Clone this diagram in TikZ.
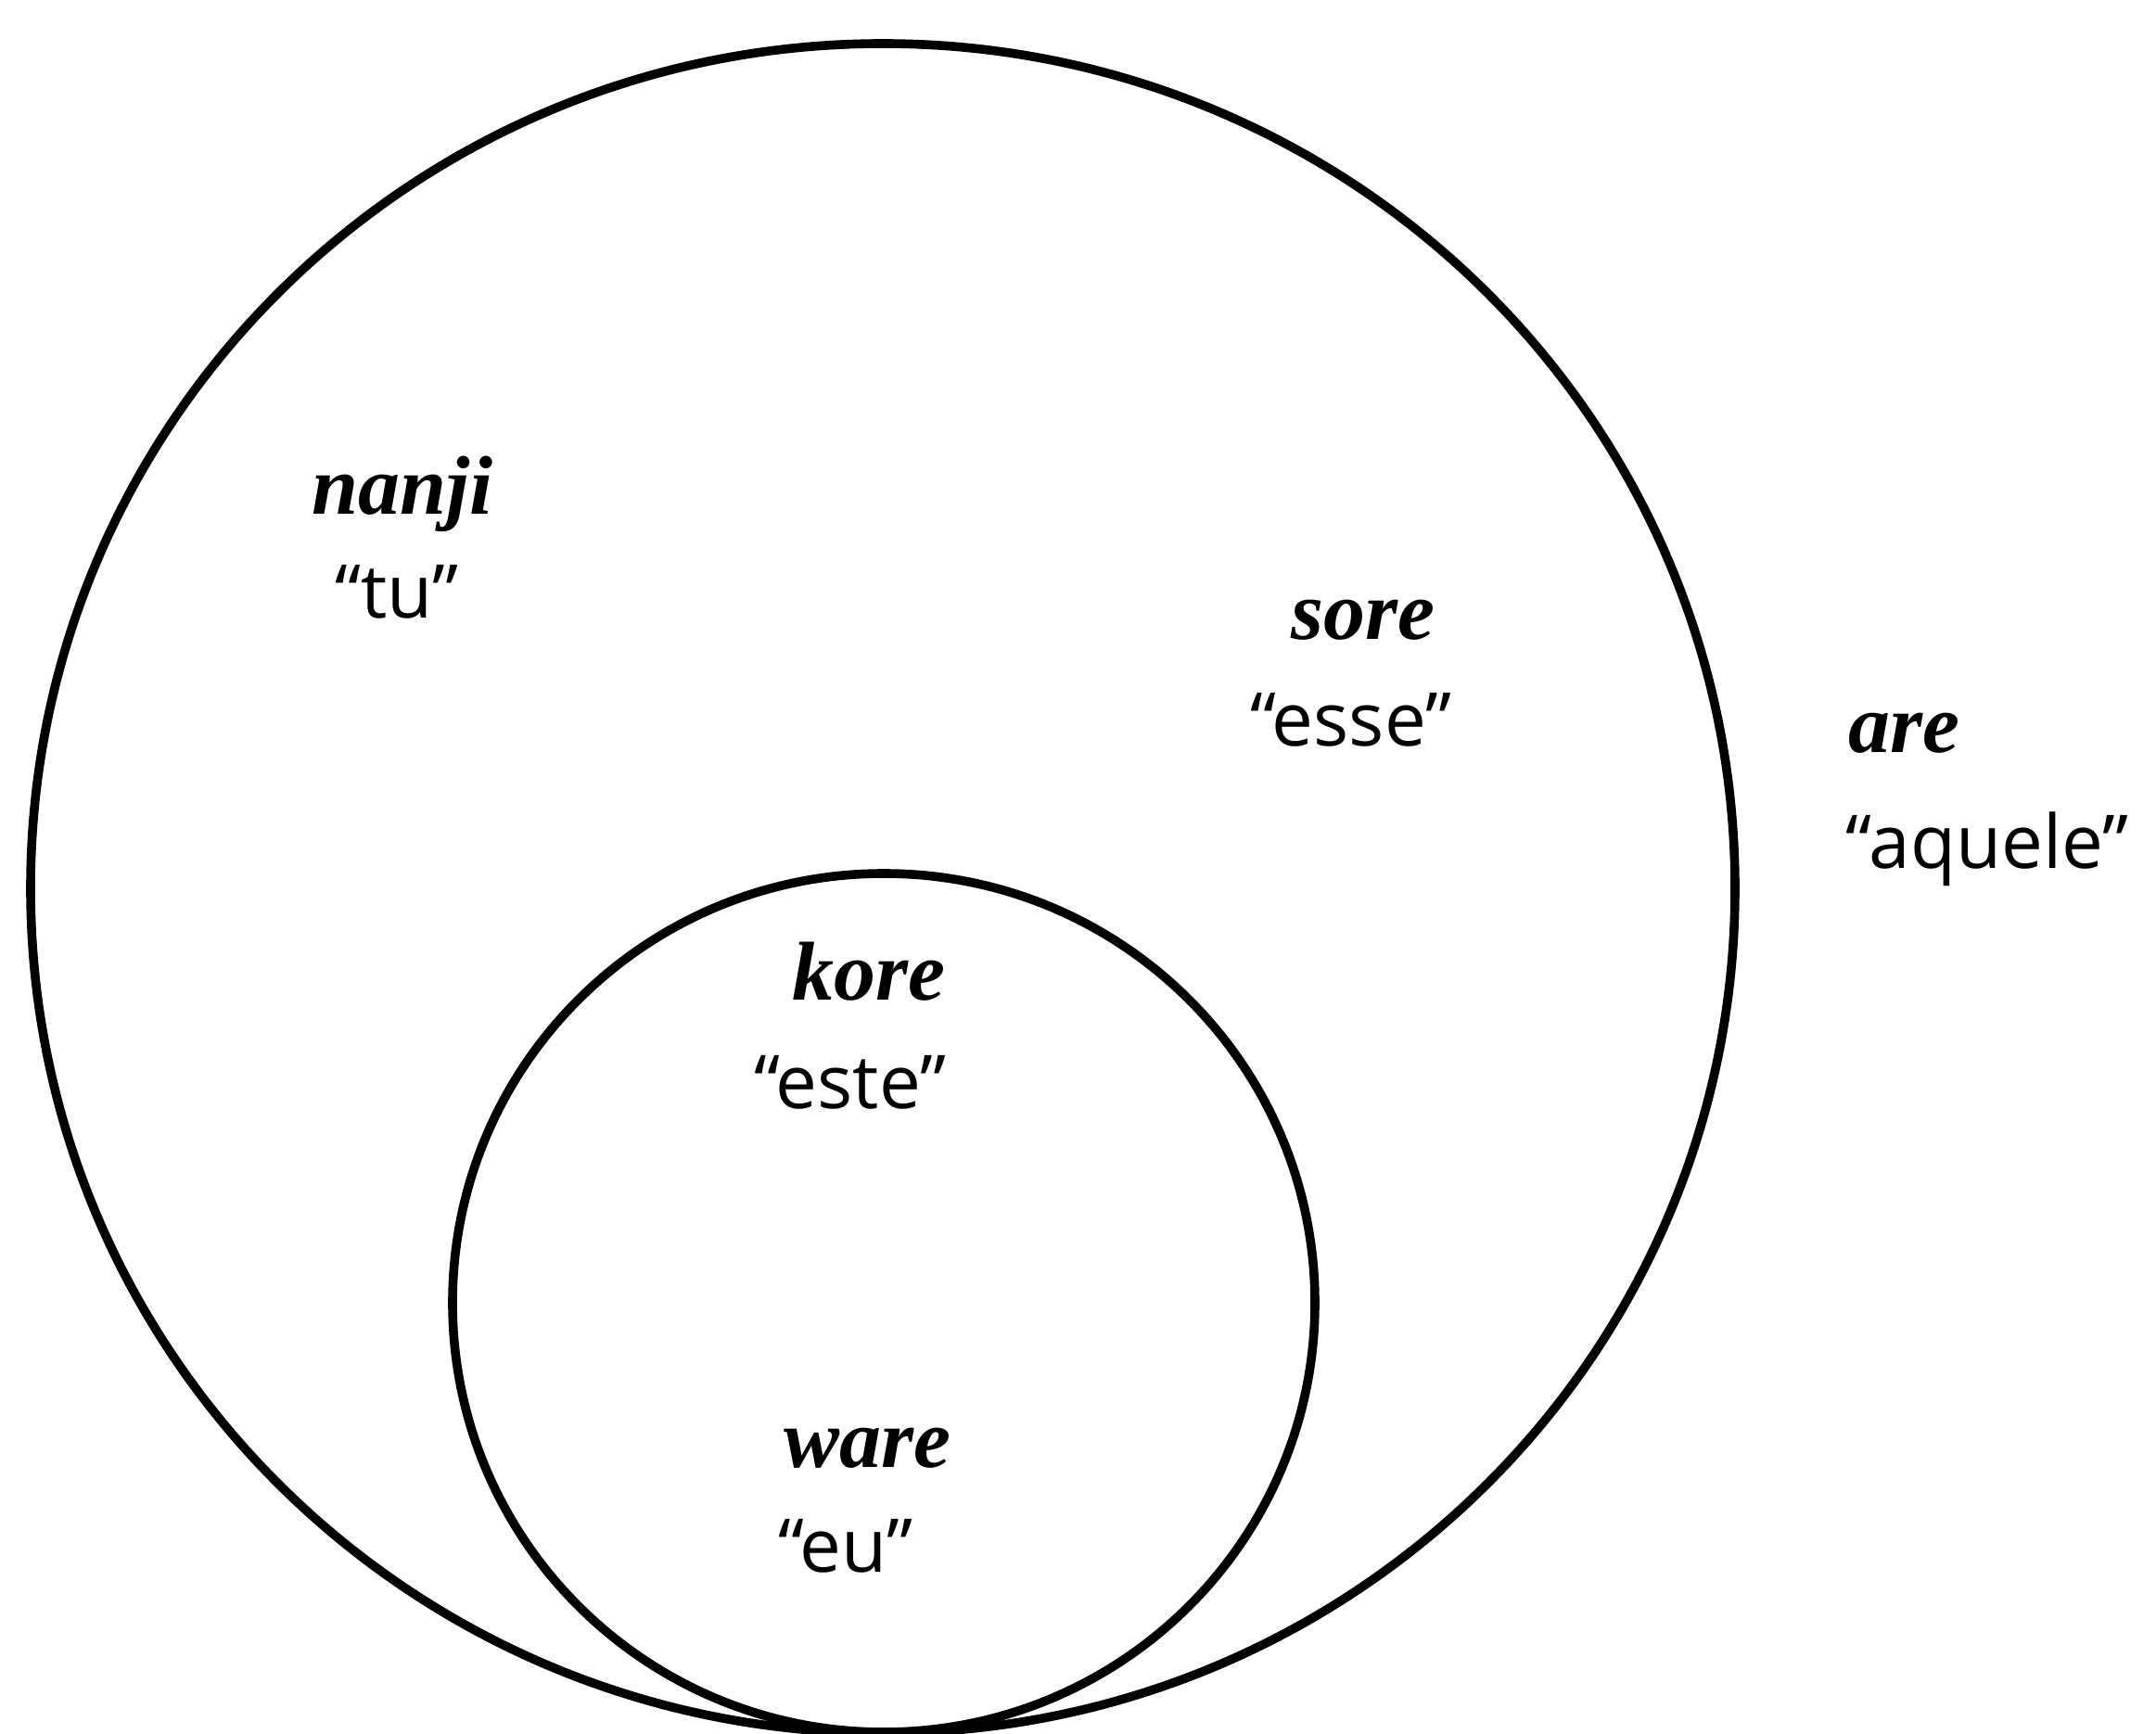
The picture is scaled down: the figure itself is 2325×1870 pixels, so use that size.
\documentclass[tikz,border=0pt]{standalone}
\usepackage{fontspec}
\setmainfont{Liberation Serif}
\newfontfamily\glossfont[Ligatures=TeX]{Open Sans}
\usetikzlibrary{shapes.geometric}

\begin{document}
\begin{tikzpicture}[
        x=0.25pt, y=-0.25pt,
        set/.style = {draw, ellipse, line width=2.4pt, inner sep=0pt},
        word/.style = {font=\fontsize{22.5}{27}\selectfont\bfseries\itshape, inner sep=0pt, anchor=base},
        gloss/.style = {font=\fontsize{20}{24}\selectfont\glossfont, inner sep=0pt, anchor=base}
        ]
        \useasboundingbox (0,0) rectangle (2325,1870);
        % the two sets, touching at the bottom
        \node[set, minimum width=459.5pt, minimum height=455.5pt] (outer) at (952,958) {};
        \node[set, minimum width=232.5pt, minimum height=231.5pt] (inner) at (953,1405) {};
        % labels
        \node[word] (nanji) at (434,555) {nanji};
        \node[gloss] (tu) at (428,667) {“tu”};
        \node[word] (sore) at (1470,690) {sore};
        \node[gloss] (esse) at (1457,805) {“esse”};
        \node[word, anchor=base west] (are) at (1993,812) {are};
        \node[gloss, anchor=base west] (aquele) at (1990,937) {“aquele”};
        \node[word] (kore) at (937,1078) {kore};
        \node[gloss] (este) at (917,1195) {“este”};
        \node[word] (ware) at (935,1582) {ware};
        \node[gloss] (eu) at (912,1695) {“eu”};
    \end{tikzpicture}
\end{document}
